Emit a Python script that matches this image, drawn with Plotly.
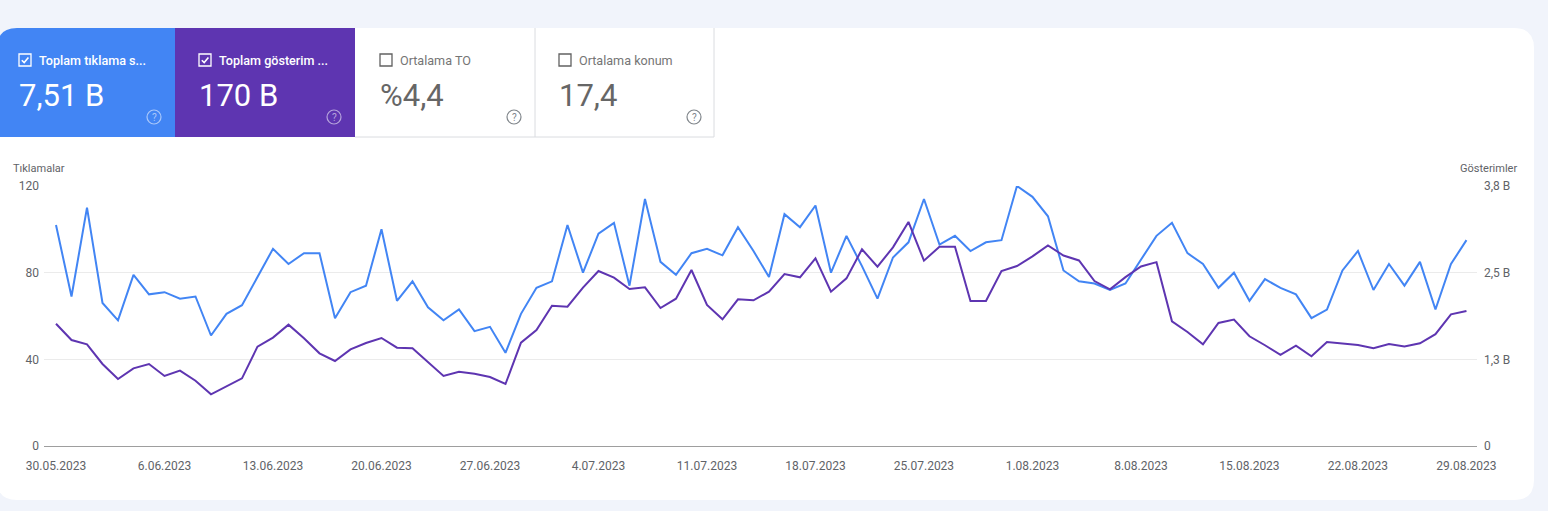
import pandas as pd
import plotly.graph_objects as go

W, H = 1548, 511

# daily data, 30.05.2023 - 29.08.2023
dates = pd.date_range('2023-05-30', periods=92, freq='D')

clicks = [102, 69, 110, 66, 58, 79, 70, 71, 68, 69,
          51, 61, 65, 78, 91, 84, 89, 89, 59, 71,
          74, 100, 67, 76, 64, 58, 63, 53, 55, 43,
          61, 73, 76, 102, 80, 98, 103, 74, 114, 85,
          79, 89, 91, 88, 101, 90, 78, 107, 101, 111,
          80, 97, 83, 68, 87, 94, 114, 93, 97, 90,
          94, 95, 120, 115, 106, 81, 76, 75, 72, 75,
          86, 97, 103, 89, 84, 73, 80, 67, 77, 73,
          70, 59, 63, 81, 90, 72, 84, 74, 85, 63,
          84, 95]

impressions = [1764, 1529, 1466, 1183, 966, 1120, 1183, 1010, 1087, 942,
               745, 856, 976, 1433, 1563, 1750, 1553, 1337, 1226, 1394,
               1486, 1558, 1418, 1409, 1212, 1010, 1072, 1043, 995, 894,
               1490, 1673, 2024, 2010, 2284, 2524, 2428, 2264, 2288, 1990,
               2125, 2538, 2034, 1827, 2115, 2101, 2226, 2481, 2433, 2707,
               2226, 2418, 2837, 2587, 2865, 3231, 2673, 2875, 2875, 2091,
               2091, 2524, 2596, 2734, 2892, 2748, 2676, 2379, 2259, 2436,
               2590, 2652, 1799, 1645, 1468, 1775, 1823, 1583, 1453, 1314,
               1448, 1295, 1501, 1477, 1458, 1410, 1472, 1434, 1482, 1612,
               1899, 1947]

left_ticks = [0, 40, 80, 120]
right_ticks = [0, 1250, 2500, 3750]
right_labels = ['0', '1,3 B', '2,5 B', '3,8 B']

# metric tiles: title, value, checked
tile_titles = ['Toplam tıklama s...', 'Toplam gösterim ...', 'Ortalama TO', 'Ortalama konum']
tile_values = ['7,51 B', '170 B', '%4,4', '17,4']
tile_checked = [True, True, False, False]

BLUE = '#4285f4'
PURPLE = '#5e35b1'
GRAY_TXT = '#5f6368'
BG = '#f1f4fb'


def px(x):
    return x / W


def py(y):
    return 1 - y / H


def rounded_path(x0, y0, x1, y1, r_tl=0, r_tr=0, r_br=0, r_bl=0):
    pts = []
    pts.append(f"M{px(x0 + r_tl)},{py(y0)}")
    pts.append(f"L{px(x1 - r_tr)},{py(y0)}")
    if r_tr:
        pts.append(f"Q{px(x1)},{py(y0)} {px(x1)},{py(y0 + r_tr)}")
    pts.append(f"L{px(x1)},{py(y1 - r_br)}")
    if r_br:
        pts.append(f"Q{px(x1)},{py(y1)} {px(x1 - r_br)},{py(y1)}")
    pts.append(f"L{px(x0 + r_bl)},{py(y1)}")
    if r_bl:
        pts.append(f"Q{px(x0)},{py(y1)} {px(x0)},{py(y1 - r_bl)}")
    pts.append(f"L{px(x0)},{py(y0 + r_tl)}")
    if r_tl:
        pts.append(f"Q{px(x0)},{py(y0)} {px(x0 + r_tl)},{py(y0)}")
    pts.append("Z")
    return " ".join(pts)


fig = go.Figure()

fig.add_trace(go.Scatter(
    x=dates, y=clicks, mode='lines', name='Tıklamalar',
    line=dict(color=BLUE, width=2), yaxis='y'
))
fig.add_trace(go.Scatter(
    x=dates, y=impressions, mode='lines', name='Gösterimler',
    line=dict(color=PURPLE, width=2), yaxis='y2'
))

shapes = []
annotations = []

# white card
shapes.append(dict(type='path', xref='paper', yref='paper', layer='below',
                   path=rounded_path(-3, 28, 1534, 500, 20, 20, 20, 20),
                   fillcolor='white', line=dict(width=0)))
# coloured tiles
shapes.append(dict(type='path', xref='paper', yref='paper', layer='below',
                   path=rounded_path(-3, 28, 175, 137, r_tl=20),
                   fillcolor=BLUE, line=dict(width=0)))
shapes.append(dict(type='rect', xref='paper', yref='paper', layer='below',
                   x0=px(175), x1=px(355), y0=py(137), y1=py(28),
                   fillcolor=PURPLE, line=dict(width=0)))
# borders of white tiles
for x in [535, 714]:
    shapes.append(dict(type='line', xref='paper', yref='paper', layer='below',
                       x0=px(x), x1=px(x), y0=py(137), y1=py(28),
                       line=dict(color='#dadce0', width=1)))
shapes.append(dict(type='line', xref='paper', yref='paper', layer='below',
                   x0=px(355), x1=px(714), y0=py(137), y1=py(137),
                   line=dict(color='#dadce0', width=1)))

tile_left = [19, 199, 380, 559]
tile_qm = [154, 334, 514, 694]
for i in range(4):
    xl = tile_left[i]
    on_color = tile_checked[i]
    txt_col = 'white' if on_color else '#757575'
    val_col = 'white' if on_color else '#666666'
    box_col = 'white' if on_color else '#616161'
    # checkbox
    shapes.append(dict(type='rect', xref='paper', yref='paper',
                       x0=px(xl), x1=px(xl + 12), y0=py(66), y1=py(54),
                       line=dict(color=box_col, width=1.3), fillcolor='rgba(0,0,0,0)'))
    if on_color:
        shapes.append(dict(type='path', xref='paper', yref='paper',
                           path=f"M{px(xl + 2.8)},{py(60.2)} L{px(xl + 5.2)},{py(62.6)} L{px(xl + 9.4)},{py(57.6)}",
                           line=dict(color='white', width=1.6)))
    annotations.append(dict(x=px(xl + 18), y=py(60), xref='paper', yref='paper',
                            text=tile_titles[i], showarrow=False, xanchor='left', yanchor='middle',
                            font=dict(family='Roboto', size=12.6, color=txt_col,
                                      weight=500 if on_color else 400)))
    annotations.append(dict(x=px(xl - 2), y=py(95), xref='paper', yref='paper',
                            text=tile_values[i], showarrow=False, xanchor='left', yanchor='middle',
                            font=dict(family='Roboto', size=31, color=val_col)))
    # help icon
    qc = 'rgba(255,255,255,0.55)' if on_color else '#80868b'
    qx = tile_qm[i]
    shapes.append(dict(type='circle', xref='paper', yref='paper',
                       x0=px(qx - 7), x1=px(qx + 7), y0=py(124), y1=py(110),
                       line=dict(color=qc, width=1.2)))
    annotations.append(dict(x=px(qx), y=py(117.3), xref='paper', yref='paper',
                            text='?', showarrow=False, xanchor='center', yanchor='middle',
                            font=dict(family='Roboto', size=10, color=qc)))

# axis titles
annotations.append(dict(x=px(11), y=py(169), xref='paper', yref='paper', text='Tıklamalar',
                        showarrow=False, xanchor='left', yanchor='middle',
                        font=dict(family='Roboto', size=11, color=GRAY_TXT)))
annotations.append(dict(x=px(1519), y=py(169), xref='paper', yref='paper', text='Gösterimler',
                        showarrow=False, xanchor='right', yanchor='middle',
                        font=dict(family='Roboto', size=11, color=GRAY_TXT)))

day = 86400000
x_start = dates[0] - pd.Timedelta(hours=0.774 * 24)
x_end = dates[-1] + pd.Timedelta(hours=0.68 * 24)

fig.update_layout(
    width=W, height=H, autosize=False,
    margin=dict(l=0, r=0, t=0, b=0, pad=0),
    paper_bgcolor=BG, plot_bgcolor='rgba(0,0,0,0)',
    showlegend=False,
    font=dict(family='Roboto', size=12, color=GRAY_TXT),
    shapes=shapes, annotations=annotations,
    xaxis=dict(
        domain=[px(44), px(1477)],
        type='date', range=[x_start, x_end],
        tick0=dates[0], dtick=7 * day, tickformat='%-d.%m.%Y',
        showgrid=False, zeroline=False, automargin=False,
        showline=True, linecolor='#9e9e9e', linewidth=1,
        ticks='', ticklabelstandoff=9,
        tickfont=dict(family='Roboto', size=12, color=GRAY_TXT),
    ),
    yaxis=dict(
        domain=[py(446), py(186)],
        range=[0, 120], tickvals=left_ticks, automargin=False,
        showgrid=True, gridcolor='#ebebeb', gridwidth=1,
        zeroline=False, showline=False, ticks='',
        ticklabelstandoff=4,
        tickfont=dict(family='Roboto', size=12, color=GRAY_TXT),
    ),
    yaxis2=dict(
        overlaying='y', side='right', anchor='x', automargin=False,
        range=[0, 3750], tickvals=right_ticks, ticktext=right_labels,
        showgrid=False, zeroline=False, showline=False, ticks='',
        ticklabelstandoff=6,
        tickfont=dict(family='Roboto', size=12, color=GRAY_TXT),
    ),
)

fig.write_html("out.html", config={'displayModeBar': False},
               post_script="document.body.style.margin='0';document.body.style.overflow='hidden';")
